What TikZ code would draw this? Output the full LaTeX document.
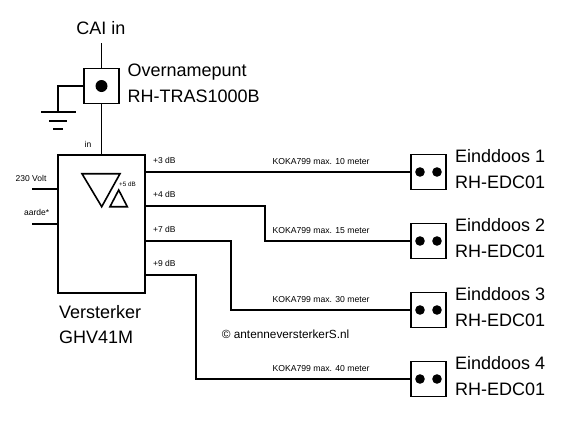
\documentclass[tikz,border=0pt]{standalone}
\usepackage{fontspec}
\setmainfont{Liberation Sans}
\usetikzlibrary{positioning}
\tikzset{
  wire/.style={line width=1.6pt},
  blockbox/.style={draw,line width=1.6pt,inner sep=0pt,minimum width=35pt,minimum height=35pt},
  bigtext/.style={anchor=base west,inner sep=0pt,font=\fontsize{18}{20}\selectfont},
  smalltext/.style={anchor=base west,inner sep=0pt,font=\fontsize{8.5}{10}\selectfont},
  tinytext/.style={anchor=base west,inner sep=0pt,font=\fontsize{6.3}{8}\selectfont}
}
\begin{document}
\begin{tikzpicture}[x=1pt,y=-1pt]
\useasboundingbox (0,0) rectangle (587,424);
% Incoming cable, tap point and earth.
\node[anchor=base,inner sep=0pt,font=\fontsize{18}{20}\selectfont] (cai) at (101,34) {CAI in};
\coordinate (caiend) at (101.5,43);
\node[blockbox] (tap) at (101.5,86) {};
\fill (tap.center) circle (6);
\draw[wire] (caiend) -- (tap.north);
\node[bigtext] (tapname) at (127.5,76.7) {Overnamepunt};
\node[bigtext] (taptype) at (127.5,102.5) {RH-TRAS1000B};
\coordinate (gnd) at (58,112);
\draw[wire] (tap.west) -| (gnd);
\draw[wire] (41,112) -- (76,112);
\draw[wire] (49,121) -- (67,121);
\draw[wire] (53,129) -- (63,129);
% Amplifier with its inputs and symbol.
\node[draw,line width=1.6pt,inner sep=0pt,minimum width=87pt,minimum height=138pt] (amp) at (101.5,224) {};
\draw[wire] (tap.south) -- (amp.north);
\node[smalltext] (inlabel) at (84.5,147) {in};
\node[smalltext] (powerlabel) at (15.5,181) {230 Volt};
\node[smalltext] (earthlabel) at (24,215.5) {aarde*};
\coordinate (power) at (32,189);
\coordinate (earth) at (32,224);
\draw[wire] (power) -- (power -| amp.west);
\draw[wire] (earth) -- (earth -| amp.west);
\draw[wire] (82,173.7) -- (120,173.7) -- (101.7,206.7) -- cycle;
\draw[wire] (118.7,190) -- (127.3,206.7) -- (110,206.7) -- cycle;
\node[tinytext] (gainlabel) at (119,186) {+5 dB};
\node[bigtext] (ampname) at (59,318) {Versterker};
\node[bigtext] (amptype) at (59,343) {GHV41M};
% Outputs, cables and end boxes.
\foreach \n/\gain/\outy/\bendx/\boxy/\len in {1/+3/172/300/172/10,2/+4/206/265/241/15,3/+7/241/231/310/30,4/+9/275/196/379/40}{
  \node[blockbox] (box\n) at (428.5,\boxy) {};
  \fill ([xshift=-8.5pt]box\n.center) circle (4.8);
  \fill ([xshift=8.5pt]box\n.center) circle (4.8);
  \coordinate (out\n) at (145,\outy);
  \coordinate (bend\n) at (\bendx,\outy);
  \draw[wire] (out\n) -- (bend\n) |- (box\n.west);
  \node[smalltext] (gain\n) at (153,\outy-8.7) {\gain{} dB};
  \node[anchor=base,inner sep=0pt,font=\fontsize{8.65}{10}\selectfont] (cable\n) at (321,\boxy-8) {KOKA799 max. \len{} meter};
  \node[bigtext] (boxname\n) at (455,\boxy-9.5) {Einddoos \n};
  \node[bigtext] (boxtype\n) at (455,\boxy+16.7) {RH-EDC01};
}
\node[anchor=base west,inner sep=0pt,font=\fontsize{11.8}{14}\selectfont] (credit) at (221.7,338.7) {© antenneversterkerS.nl};
\end{tikzpicture}
\end{document}
